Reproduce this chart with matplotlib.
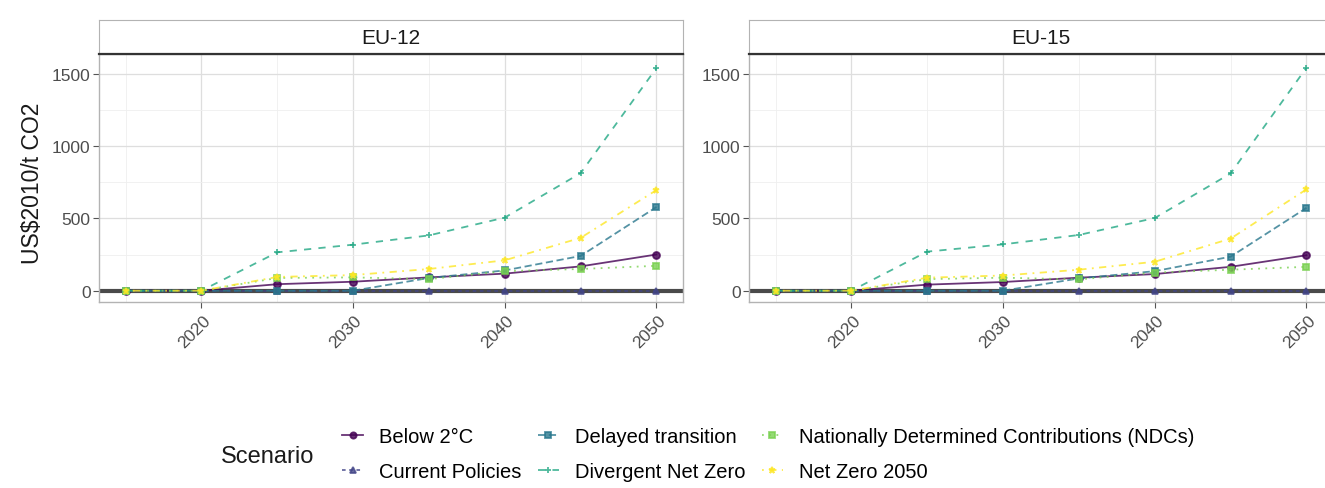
import numpy as np
import matplotlib
matplotlib.use("Agg")
import matplotlib.pyplot as plt
import matplotlib.transforms as mtransforms
from matplotlib.lines import Line2D

plt.rcParams['font.family'] = ['Liberation Sans', 'DejaVu Sans']

years = [2015, 2020, 2025, 2030, 2035, 2040, 2045, 2050]
scenarios = ["Below 2°C", "Current Policies", "Delayed transition",
             "Divergent Net Zero", "Nationally Determined Contributions (NDCs)",
             "Net Zero 2050"]
regions = ["EU-12", "EU-15"]

# carbon price, US$2010/t CO2
eu12_below2 = [0, 0, 45, 62, 92, 118, 168, 250]
eu12_current = [0, 0, 0, 0, 0, 0, 0, 0]
eu12_delayed = [0, 0, 0, 0, 88, 140, 240, 578]
eu12_divergent = [0, 0, 265, 318, 382, 505, 812, 1538]
eu12_ndc = [0, 0, 88, 92, 80, 135, 150, 172]
eu12_netzero = [0, 0, 95, 108, 150, 210, 365, 695]

eu15_below2 = [0, 0, 42, 60, 90, 115, 165, 245]
eu15_current = [0, 0, 0, 0, 0, 0, 0, 0]
eu15_delayed = [0, 0, 0, 0, 85, 135, 235, 572]
eu15_divergent = [0, 0, 270, 320, 385, 502, 810, 1540]
eu15_ndc = [0, 0, 80, 90, 78, 125, 145, 165]
eu15_netzero = [0, 0, 90, 105, 145, 200, 360, 700]

series = {
    "EU-12": [eu12_below2, eu12_current, eu12_delayed, eu12_divergent, eu12_ndc, eu12_netzero],
    "EU-15": [eu15_below2, eu15_current, eu15_delayed, eu15_divergent, eu15_ndc, eu15_netzero],
}

colors = ["#440154", "#414487", "#2A788E", "#22A884", "#7AD151", "#FDE725"]
styles = ["-", (0, (2, 2)), (0, (4, 2)), (0, (4, 4)), (0, (1, 3)), (0, (1, 3, 4, 3))]
markers = ["o", "^", "s", "+", "s", "*"]

W, H = 1325, 489
fig = plt.figure(figsize=(W / 100, H / 100), dpi=100)

panel_left = [99, 749]
panel_w = 584
panel_top, panel_bot = 55, 303
strip_top = 21

# small nudge for the rotated year labels
shift = mtransforms.ScaledTranslation(1 / 100, -2 / 100, fig.dpi_scale_trans)

for reg, x0 in zip(regions, panel_left):
    ax = fig.add_axes([x0 / W, (H - panel_bot) / H, panel_w / W, (panel_bot - panel_top) / H])
    ax.set_xlim(2013.25, 2051.75)
    ax.set_ylim(-78, 1635)
    ax.set_xticks([2020, 2030, 2040, 2050])
    ax.set_xticks([2015, 2025, 2035, 2045], minor=True)
    ax.set_yticks([0, 500, 1000, 1500])
    ax.set_yticks([250, 750, 1250], minor=True)
    ax.grid(which="major", color="#dedede", lw=0.9)
    ax.grid(which="minor", color="#efefef", lw=0.6)
    ax.set_axisbelow(True)
    for s in ax.spines.values():
        s.set_color("#b3b3b3")
        s.set_linewidth(1.0)
    ax.tick_params(which="minor", length=0)
    ax.tick_params(which="major", length=4, color="#555555", labelsize=12.5,
                   labelcolor="#4d4d4d", pad=2)
    for lbl in ax.get_xticklabels():
        lbl.set_rotation(45)
        lbl.set_ha("right")
        lbl.set_va("top")
        lbl.set_rotation_mode("anchor")
        lbl.set_transform(lbl.get_transform() + shift)

    ax.axhline(0, color="#4a4a4a", lw=3.0, zorder=2)
    for vals, c, ls, m in zip(series[reg], colors, styles, markers):
        ax.plot(years, vals, color=c, ls=ls, lw=1.3, marker=m, ms=5,
                mew=1.3, alpha=0.8, zorder=3)

    # facet strip
    sax = fig.add_axes([x0 / W, (H - panel_top) / H, panel_w / W, (panel_top - strip_top) / H])
    sax.set_xticks([])
    sax.set_yticks([])
    for s in sax.spines.values():
        s.set_color("#b3b3b3")
    sax.spines["bottom"].set_color("#333333")
    sax.spines["bottom"].set_linewidth(1.6)
    sax.text(0.5, 0.5, reg, ha="center", va="center", fontsize=15, color="#1a1a1a")

fig.text(33 / W, (H - 183) / H, "US$2010/t CO2", rotation=90, ha="center",
         va="center", fontsize=16.5, color="#1a1a1a")

handles = [Line2D([], [], color=c, ls=ls, lw=1.3, marker=m, ms=4.5, mew=1.3, alpha=0.8)
           for c, ls, m in zip(colors, styles, markers)]
fig.legend(handles, scenarios, ncol=3, loc="center left",
           bbox_to_anchor=(332 / W, (H - 455) / H), frameon=False,
           fontsize=14.5, handlelength=1.05, handletextpad=0.8,
           columnspacing=0.8, labelspacing=0.75, borderpad=0)
fig.text(221 / W, (H - 457) / H, "Scenario", ha="left", va="center",
         fontsize=17, color="#1a1a1a")

fig.savefig("out.png", dpi=100, facecolor="white")
